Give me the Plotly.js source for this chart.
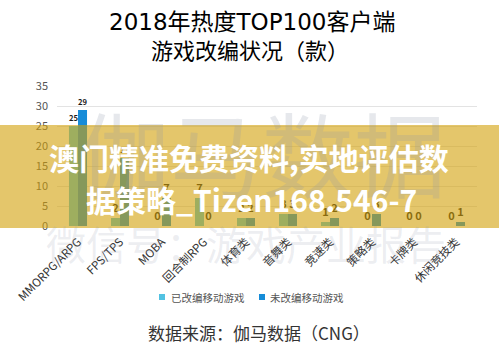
<!DOCTYPE html>
<html>
<head>
<meta charset="utf-8">
<script src="https://cdn.plot.ly/plotly-3.0.1.min.js"></script>
<style>
html,body{margin:0;padding:0;background:#fff;}
#chart{width:499px;height:356px;}
</style>
</head>
<body>
<div id="chart"></div>
<script>
var categories = ['MMORPG/ARPG','FPS/TPS','MOBA','回合制RPG','体育类','音舞类','竞速类','策略类','卡牌类','休闲竞技类'];
var adapted = [25, 2, 0, 7, 2, 3, 1, 0, 0, 0];
var notAdapted = [29, 17, 7, 0, 2, 3, 2, 3, 0, 1];
var seriesNames = ['已改编移动游戏','未改编移动游戏'];
var seriesColors = ['#52c2e2','#168cd8'];
var yTicks = [0,5,10,15,20,25,30,35];
var titleLines = ['2018年热度TOP100客户端','游戏改编状况（款）'];
var sourceText = '数据来源：伽马数据（CNG）';

var FONT = '"Noto Sans CJK SC", "Noto Sans", sans-serif';
var TITLE_FONT = '"DejaVu Sans", "Noto Sans CJK SC", sans-serif';

// pixel helpers for decoration placement (plot area: x 57..477, y 86..226)
function px(x){ return (x-57)/420; }
function py(y){ return (226-y)/140; }

var traces = [0,1].map(function(i){
  var vals = i===0 ? adapted : notAdapted;
  return {type:'bar', name:seriesNames[i], x:categories, y:vals,
   texttemplate:'<b>%{y}</b>',
   textposition:'outside', cliponaxis:false, showlegend:false,
   textfont:{family:FONT, size:11, color:'#1a1a1a'},
   marker:{color:seriesColors[i]}};
});

var shapes = [
  {type:'rect', xref:'paper', yref:'paper', x0:px(-10), x1:px(510), y0:py(228), y1:py(125),
   fillcolor:'rgba(210,160,8,0.6)', line:{width:0}, layer:'above'},
  {type:'rect', xref:'paper', yref:'paper', x0:px(159), x1:px(165), y0:py(300), y1:py(294),
   fillcolor:seriesColors[0], line:{width:0}},
  {type:'rect', xref:'paper', yref:'paper', x0:px(259), x1:px(265), y0:py(300), y1:py(294),
   fillcolor:seriesColors[1], line:{width:0}}
];

function ann(text, x, y, size, color, extra, fam){
  var a = {text:text, xref:'paper', yref:'paper', x:px(x), y:py(y), showarrow:false,
           xanchor:'center', yanchor:'middle', font:{family:fam||FONT, size:size, color:color}};
  if (extra) for (var k in extra) a[k] = extra[k];
  return a;
}

var annotations = [
  ann(titleLines[0], 252, 22, 23, '#000', null, TITLE_FONT),
  ann(titleLines[1], 250, 49, 22, '#000'),
  ann('伽马数据', 262, 150, 92, 'rgba(140,150,170,0.22)'),
  ann('微信号：游戏产业报告', 246, 243, 40, 'rgba(140,150,170,0.16)'),
  ann('<b>澳门精准免费资料,实地评估数</b>', 249, 157, 30, '#ffffff'),
  ann('<b>据策略_Tizen168.546-7</b>', 251, 199, 30, '#ffffff'),
  ann(seriesNames[0], 169, 297, 10.5, '#555', {xanchor:'left'}),
  ann(seriesNames[1], 268, 297, 10.5, '#555', {xanchor:'left'}),
  ann(sourceText, 259, 332, 17, '#333')
];

var layout = {
  width:499, height:356,
  margin:{l:57, r:22, t:86, b:130},
  paper_bgcolor:'#fff', plot_bgcolor:'#fff',
  font:{family:FONT, color:'#333'},
  barmode:'group', bargap:0.57, bargroupgap:0,
  showlegend:false,
  xaxis:{type:'category', tickangle:-45, tickfont:{size:11.5, color:'#333'}, showgrid:false,
         showline:false, ticks:'', automargin:false, ticklabelstandoff:6},
  yaxis:{range:[0,35], tickvals:yTicks, showgrid:true, gridcolor:'#e3e3e3', gridwidth:1,
         zeroline:false, showline:false, tickfont:{size:11, color:'#555'}, ticks:'',
         automargin:false, ticklabelstandoff:8},
  shapes:shapes,
  annotations:annotations
};

Plotly.newPlot('chart', traces, layout, {displayModeBar:false, staticPlot:true});
</script>
</body>
</html>
